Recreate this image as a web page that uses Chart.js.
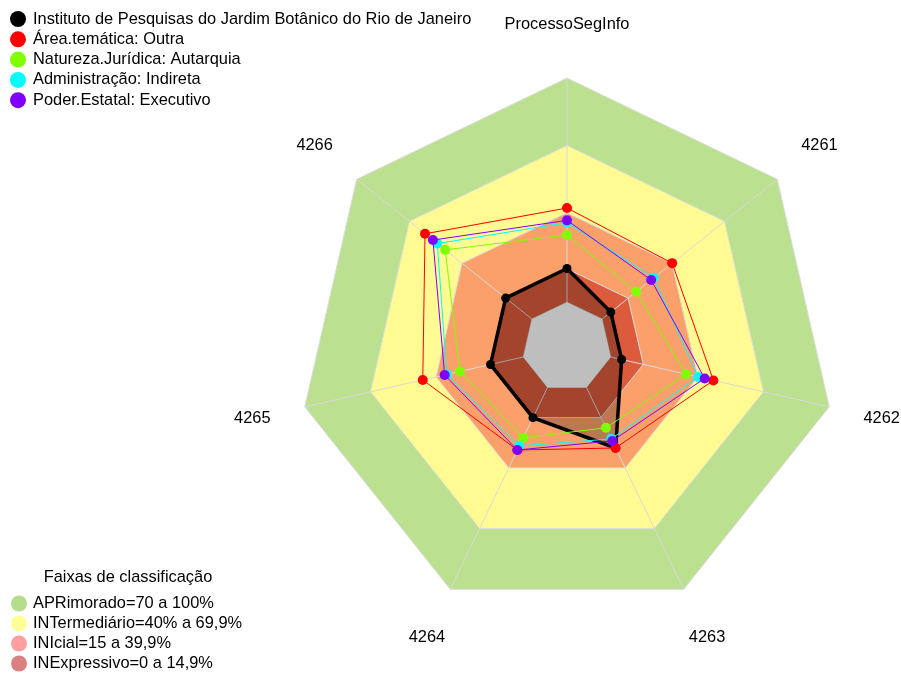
<!DOCTYPE html>
<html>
<head>
<meta charset="utf-8">
<script src="https://cdn.jsdelivr.net/npm/chart.js@4/dist/chart.umd.min.js"></script>
<style>
  html, body { margin: 0; padding: 0; background: #ffffff; }
  #wrap { width: 901px; height: 675px; }
</style>
</head>
<body>
<div id="wrap"><canvas id="radar" width="901" height="675"></canvas></div>
<script>
// Axes of the radar (clockwise from the top)
const axisLabels = ['ProcessoSegInfo', '4261', '4262', '4263', '4264', '4265', '4266'];

// Series values (% per axis)
const instituto    = [15, 5, 5, 30, 15, 15, 15];
const areaTematica = [42, 40, 47, 30, 31, 46, 61];
const natureza     = [30, 19.5, 34.5, 20, 25, 29, 49.5];
const administracao = [35.5, 29.5, 40, 25.5, 29, 35, 54];
const poderEstatal = [36.5, 28, 43, 26.5, 31, 36, 56.5];

const seriesNames = [
  'Instituto de Pesquisas do Jardim Botânico do Rio de Janeiro',
  'Área.temática: Outra',
  'Natureza.Jurídica: Autarquia',
  'Administração: Indireta',
  'Poder.Estatal: Executivo'
];
const seriesColors = ['#000000', '#ff0000', '#80ff00', '#00ffff', '#8000ff'];

// Classification bands (upper limit of each band)
const bandNames = [
  'APRimorado=70 a 100%',
  'INTermediário=40% a 69,9%',
  'INIcial=15 a 39,9%',
  'INExpressivo=0 a 14,9%'
];
const bandLimits = [100, 69.9, 39.9, 14.9];
const bandFills = ['#bbe090', '#fffb92', '#fba06b', '#dc5b3c'];
const bandLegendColors = ['#b5dd8c', '#ffff99', '#ff9f9f', '#d98080'];
const legendTitle = 'Faixas de classificação';

const FONT = '16.4px "Liberation Sans", Arial, sans-serif';

const seriesData = [instituto, areaTematica, natureza, administracao, poderEstatal];

const datasets = [];
seriesData.forEach((vals, i) => {
  const isMain = i === 0;
  datasets.push({
    label: seriesNames[i],
    data: vals,
    order: 4 - i,
    borderColor: seriesColors[i],
    borderWidth: isMain ? 3.5 : 1,
    backgroundColor: isMain ? 'rgba(0,0,0,0.25)' : 'transparent',
    fill: isMain ? 'origin' : false,
    pointRadius: isMain ? 4.5 : 5,
    pointBorderWidth: 0,
    pointBackgroundColor: seriesColors[i],
    tension: 0
  });
});
bandLimits.forEach((lim, i) => {
  datasets.push({
    label: bandNames[i],
    data: axisLabels.map(() => lim),
    order: 10 - i,
    borderColor: '#dcdcdc',
    borderWidth: 1,
    backgroundColor: bandFills[i],
    fill: 'start',
    pointRadius: 0,
    tension: 0
  });
});
// neutral centre (value 0)
datasets.push({
  label: 'centro',
  data: axisLabels.map(() => 0),
  order: 6,
  borderColor: '#bebebe',
  borderWidth: 1,
  backgroundColor: '#bebebe',
  fill: 'start',
  pointRadius: 0,
  tension: 0
});
const CENTER_INDEX = datasets.length - 1;

// Spokes drawn over the bands, from value 0 to 100
const spokesPlugin = {
  id: 'spokes',
  afterDatasetDraw(chart, args) {
    if (args.index !== CENTER_INDEX) return;
    const scale = chart.scales.r;
    const ctx = chart.ctx;
    ctx.save();
    ctx.strokeStyle = '#d9d9d9';
    ctx.lineWidth = 1;
    for (let i = 0; i < axisLabels.length; i++) {
      const a = scale.getPointPositionForValue(i, 0);
      const b = scale.getPointPositionForValue(i, 100);
      ctx.beginPath();
      ctx.moveTo(a.x, a.y);
      ctx.lineTo(b.x, b.y);
      ctx.stroke();
    }
    ctx.restore();
  }
};

// Axis names and the two legends
const textPlugin = {
  id: 'texts',
  afterDraw(chart) {
    const scale = chart.scales.r;
    const ctx = chart.ctx;
    ctx.save();
    ctx.font = FONT;
    ctx.fillStyle = '#000000';
    ctx.textAlign = 'center';
    ctx.textBaseline = 'middle';
    axisLabels.forEach((lab, i) => {
      const p = scale.getPointPosition(i, scale.drawingArea * 1.2);
      ctx.fillText(lab, p.x, p.y);
    });

    ctx.textAlign = 'left';
    seriesNames.forEach((name, i) => {
      const y = 19 + i * 20.3;
      ctx.beginPath();
      ctx.fillStyle = seriesColors[i];
      ctx.arc(18, y, 8, 0, Math.PI * 2);
      ctx.fill();
      ctx.fillStyle = '#000000';
      ctx.fillText(name, 33, y);
    });

    ctx.textAlign = 'center';
    ctx.fillText(legendTitle, 128, 577);
    ctx.textAlign = 'left';
    bandNames.forEach((name, i) => {
      const y = 603.5 + i * 20;
      ctx.beginPath();
      ctx.fillStyle = bandLegendColors[i];
      ctx.arc(19, y, 8, 0, Math.PI * 2);
      ctx.fill();
      ctx.fillStyle = '#000000';
      ctx.fillText(name, 33, y);
    });
    ctx.restore();
  }
};

new Chart(document.getElementById('radar'), {
  type: 'radar',
  data: { labels: axisLabels, datasets },
  options: {
    responsive: false,
    animation: false,
    layout: { padding: { top: 78, bottom: 59, left: 298, right: 64 } },
    plugins: {
      legend: { display: false },
      tooltip: { enabled: false }
    },
    elements: { line: { tension: 0 } },
    scales: {
      r: {
        min: -20,
        max: 100,
        ticks: { display: false },
        grid: { display: false },
        angleLines: { display: false },
        pointLabels: { display: false }
      }
    }
  },
  plugins: [spokesPlugin, textPlugin]
});
</script>
</body>
</html>
